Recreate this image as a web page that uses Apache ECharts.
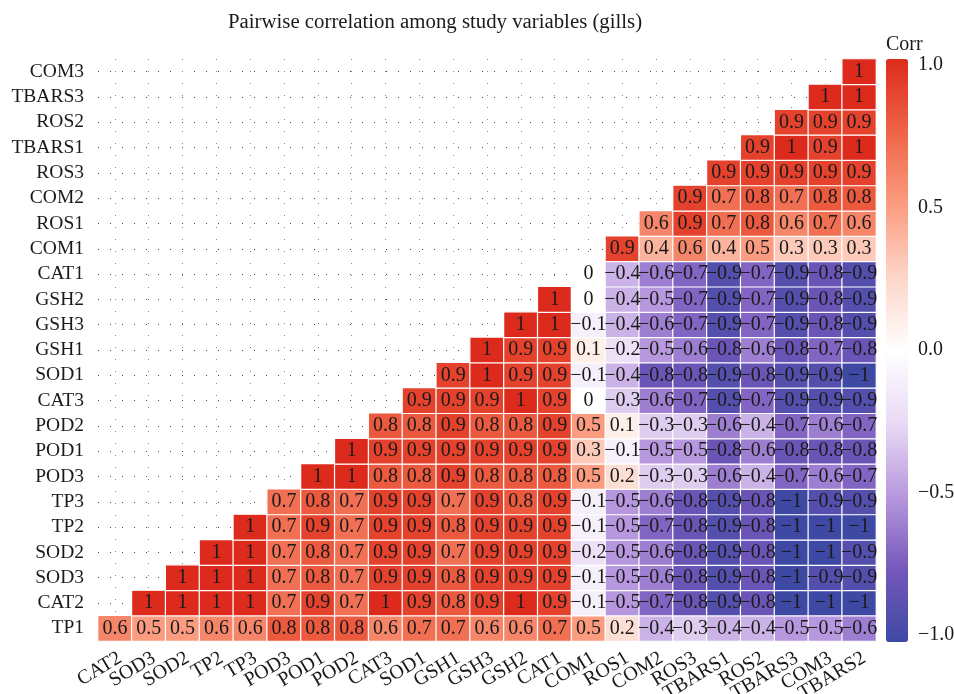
<!DOCTYPE html>
<html>
<head>
<meta charset="utf-8">
<script src="https://cdn.jsdelivr.net/npm/echarts@6/dist/echarts.min.js"></script>
<style>
html, body { margin: 0; padding: 0; background: #fff; }
#main { width: 954px; height: 694px; }
</style>
</head>
<body>
<div id="main"></div>
<script>
// column order (left to right)
var xLabels = ['CAT2', 'SOD3', 'SOD2', 'TP2', 'TP3', 'POD3', 'POD1', 'POD2', 'CAT3', 'SOD1', 'GSH1',
    'GSH3', 'GSH2', 'CAT1', 'COM1', 'ROS1', 'COM2', 'ROS3', 'TBARS1', 'ROS2', 'TBARS3', 'COM3', 'TBARS2'];
// row order (bottom to top)
var yLabels = ['TP1', 'CAT2', 'SOD3', 'SOD2', 'TP2', 'TP3', 'POD3', 'POD1', 'POD2', 'CAT3', 'SOD1', 'GSH1',
    'GSH3', 'GSH2', 'CAT1', 'COM1', 'ROS1', 'COM2', 'ROS3', 'TBARS1', 'ROS2', 'TBARS3', 'COM3'];

// row i starts at column i
var corrRows = [
    [0.6, 0.5, 0.5, 0.6, 0.6, 0.8, 0.8, 0.8, 0.6, 0.7, 0.7, 0.6, 0.6, 0.7, 0.5, 0.2, -0.4, -0.3, -0.4, -0.4, -0.5, -0.5, -0.6],
    [1, 1, 1, 1, 0.7, 0.9, 0.7, 1, 0.9, 0.8, 0.9, 1, 0.9, -0.1, -0.5, -0.7, -0.8, -0.9, -0.8, -1, -1, -1],
    [1, 1, 1, 0.7, 0.8, 0.7, 0.9, 0.9, 0.8, 0.9, 0.9, 0.9, -0.1, -0.5, -0.6, -0.8, -0.9, -0.8, -1, -0.9, -0.9],
    [1, 1, 0.7, 0.8, 0.7, 0.9, 0.9, 0.7, 0.9, 0.9, 0.9, -0.2, -0.5, -0.6, -0.8, -0.9, -0.8, -1, -1, -0.9],
    [1, 0.7, 0.9, 0.7, 0.9, 0.9, 0.8, 0.9, 0.9, 0.9, -0.1, -0.5, -0.7, -0.8, -0.9, -0.8, -1, -1, -1],
    [0.7, 0.8, 0.7, 0.9, 0.9, 0.7, 0.9, 0.8, 0.9, -0.1, -0.5, -0.6, -0.8, -0.9, -0.8, -1, -0.9, -0.9],
    [1, 1, 0.8, 0.8, 0.9, 0.8, 0.8, 0.8, 0.5, 0.2, -0.3, -0.3, -0.6, -0.4, -0.7, -0.6, -0.7],
    [1, 0.9, 0.9, 0.9, 0.9, 0.9, 0.9, 0.3, -0.1, -0.5, -0.5, -0.8, -0.6, -0.8, -0.8, -0.8],
    [0.8, 0.8, 0.9, 0.8, 0.8, 0.9, 0.5, 0.1, -0.3, -0.3, -0.6, -0.4, -0.7, -0.6, -0.7],
    [0.9, 0.9, 0.9, 1, 0.9, 0, -0.3, -0.6, -0.7, -0.9, -0.7, -0.9, -0.9, -0.9],
    [0.9, 1, 0.9, 0.9, -0.1, -0.4, -0.8, -0.8, -0.9, -0.8, -0.9, -0.9, -1],
    [1, 0.9, 0.9, 0.1, -0.2, -0.5, -0.6, -0.8, -0.6, -0.8, -0.7, -0.8],
    [1, 1, -0.1, -0.4, -0.6, -0.7, -0.9, -0.7, -0.9, -0.8, -0.9],
    [1, 0, -0.4, -0.5, -0.7, -0.9, -0.7, -0.9, -0.8, -0.9],
    [0, -0.4, -0.6, -0.7, -0.9, -0.7, -0.9, -0.8, -0.9],
    [0.9, 0.4, 0.6, 0.4, 0.5, 0.3, 0.3, 0.3],
    [0.6, 0.9, 0.7, 0.8, 0.6, 0.7, 0.6],
    [0.9, 0.7, 0.8, 0.7, 0.8, 0.8],
    [0.9, 0.9, 0.9, 0.9, 0.9],
    [0.9, 1, 0.9, 1],
    [0.9, 0.9, 0.9],
    [1, 1],
    [1]
];

var legendTitle = 'Corr';
var legendMin = -1;
var legendMax = 1;
var legendStep = 0.5;

var SERIF = "'Liberation Serif', 'DejaVu Serif', serif";

function fmtMinus(s) {
    return String(s).replace('-', '\u2212');
}

var cells = [];
for (var i = 0; i < corrRows.length; i++) {
    for (var j = 0; j < corrRows[i].length; j++) {
        cells.push([i + j, i, corrRows[i][j]]);
    }
}

var myChart = echarts.init(document.getElementById('main'));
var option = {
    backgroundColor: '#fff',
    animation: false,
    title: [
        {
            text: 'Pairwise correlation among study variables (gills)',
            left: 223,
            top: 7,
            textStyle: { fontFamily: SERIF, fontSize: 20.8, fontWeight: 'normal', color: '#1a1a1a' }
        },
        {
            text: legendTitle,
            left: 881,
            top: 30,
            textStyle: { fontFamily: SERIF, fontSize: 20, fontWeight: 'normal', color: '#1a1a1a' }
        }
    ],
    grid: [
        { left: 98, top: 59, width: 778, height: 582, outerBoundsMode: 'none', containLabel: false },
        { left: 886, top: 65, width: 22, height: 570, outerBoundsMode: 'none', containLabel: false }
    ],
    xAxis: [
        {
            type: 'category',
            gridIndex: 0,
            data: xLabels,
            axisLine: { show: false },
            axisTick: { show: false },
            axisLabel: {
                interval: 0,
                rotate: 31,
                align: 'right',
                verticalAlign: 'top',
                margin: 7,
                fontFamily: SERIF,
                fontSize: 20,
                color: '#1a1a1a'
            },
            splitLine: {
                show: true,
                alignWithLabel: true,
                lineStyle: { color: '#8a8a8a', width: 1, type: [1, 11] }
            }
        },
        { type: 'value', gridIndex: 1, show: false, min: 0, max: 1 }
    ],
    yAxis: [
        {
            type: 'category',
            gridIndex: 0,
            data: yLabels,
            axisLine: { show: false },
            axisTick: { show: false },
            axisLabel: {
                interval: 0,
                margin: 14,
                fontFamily: SERIF,
                fontSize: 19.5,
                color: '#1a1a1a'
            },
            splitLine: {
                show: true,
                alignWithLabel: true,
                lineStyle: { color: '#444', width: 1, type: [1, 11] }
            }
        },
        {
            type: 'value',
            gridIndex: 1,
            position: 'right',
            min: legendMin,
            max: legendMax,
            interval: legendStep,
            axisLine: { show: false },
            axisTick: { show: false },
            splitLine: { show: false },
            axisLabel: {
                margin: 10,
                fontFamily: SERIF,
                fontSize: 20,
                color: '#1a1a1a',
                formatter: function (v) { return fmtMinus(v.toFixed(1)); }
            }
        }
    ],
    visualMap: {
        type: 'continuous',
        seriesIndex: 0,
        min: legendMin,
        max: legendMax,
        calculable: false,
        orient: 'vertical',
        left: 886,
        top: 59,
        padding: 0,
        itemWidth: 22,
        itemHeight: 583,
        textStyle: { color: 'transparent' },
        inRange: {
            color: ['#3e49a4', '#7558bb', '#b798de', '#e9daf5', '#ffffff', '#fdd6c9', '#fb9c80', '#ef6447', '#dc2b1c']
        }
    },
    series: [
        {
            type: 'heatmap',
            xAxisIndex: 0,
            yAxisIndex: 0,
            data: cells,
            itemStyle: { borderColor: '#fff', borderWidth: 1.2 },
            label: {
                show: true,
                fontFamily: SERIF,
                fontSize: 20,
                color: '#1a1a1a',
                formatter: function (p) { return fmtMinus(p.value[2]); }
            },
            emphasis: { disabled: true }
        }
    ]
};
myChart.setOption(option);
</script>
</body>
</html>
